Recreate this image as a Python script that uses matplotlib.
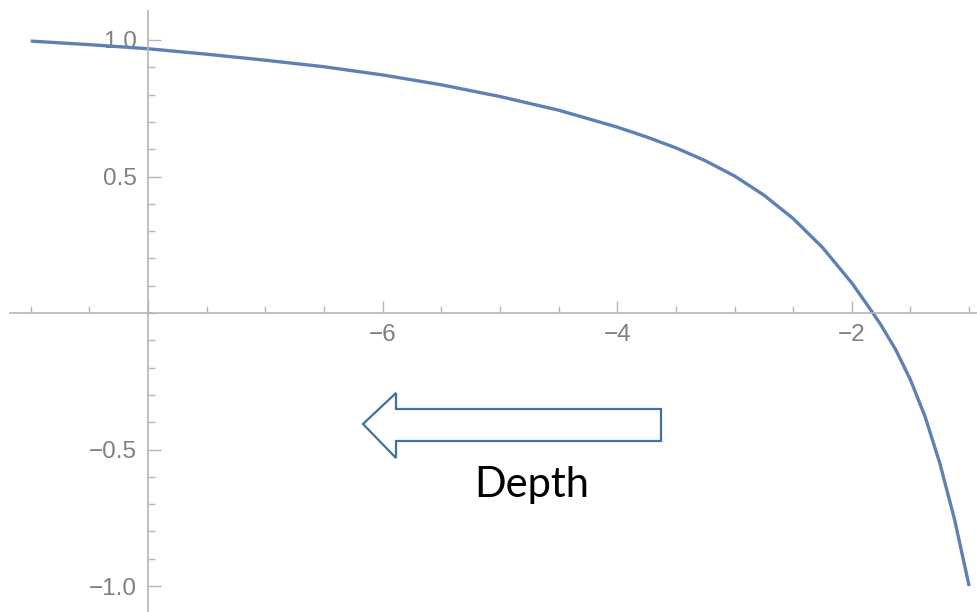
import numpy as np
import matplotlib.pyplot as plt
from matplotlib.patches import Polygon

# curve samples (depth coordinate, value)
depth = [-9.0, -8.5, -8.0, -7.5, -7.0, -6.5, -6.0, -5.5, -5.0, -4.5, -4.0,
         -3.75, -3.5, -3.25, -3.0, -2.75, -2.5, -2.25, -2.0, -1.82, -1.75,
         -1.625, -1.5, -1.375, -1.25, -1.125, -1.0]
value = [0.996, 0.983, 0.968, 0.948, 0.926, 0.902, 0.872, 0.836, 0.793, 0.743,
         0.681, 0.645, 0.605, 0.558, 0.502, 0.432, 0.346, 0.240, 0.110, 0.0,
         -0.045, -0.135, -0.245, -0.38, -0.55, -0.755, -1.0]

xticks = [-6, -4, -2]
yticks = [-1.0, -0.5, 0.5, 1.0]
arrow_label = "Depth"

W, H = 977, 612
fig = plt.figure(figsize=(W / 100, H / 100), dpi=100)
ax = fig.add_axes([0, 0, 1, 1])

ax.plot(depth, value, color='#5E81B5', lw=2.4, solid_capstyle='butt',
        solid_joinstyle='round')

ax.set_xlim(-9.262, -0.933)
ax.set_ylim(-1.095, 1.1465)

axis_gray = '#b5b5b5'
for s in ['top', 'right']:
    ax.spines[s].set_visible(False)
ax.spines['left'].set_position(('data', -8))
ax.spines['bottom'].set_position(('data', 0))
ax.spines['left'].set_bounds(-1.095, 1.105)
ax.spines['bottom'].set_bounds(-9.18, -0.933)
for s in ['left', 'bottom']:
    ax.spines[s].set_color(axis_gray)
    ax.spines[s].set_linewidth(1.2)

ax.set_xticks([-8] + xticks)
ax.set_xticklabels([''] + ['\u2212%d' % abs(t) for t in xticks])
ax.set_xticks(np.arange(-9, -0.9, 0.5), minor=True)
ax.set_yticks(yticks)
ax.set_yticklabels([('\u2212%.1f' % abs(t)) if t < 0 else '%.1f' % t for t in yticks])
ax.set_yticks(np.arange(-1.0, 1.05, 0.1), minor=True)

ax.tick_params(which='both', direction='in', color=axis_gray, width=1.0,
               labelcolor='#808080', labelsize=17.5)
ax.tick_params(which='major', length=9)
ax.tick_params(which='minor', length=5)
ax.tick_params(axis='x', which='major', pad=8)
ax.tick_params(axis='y', which='major', pad=8)
for lab in ax.get_xticklabels() + ax.get_yticklabels():
    lab.set_fontfamily('Liberation Sans')


def fp(px, py):
    return (px / W, 1 - py / H)


# hollow block arrow pointing left
arrow_pts = [fp(363, 424), fp(396, 393), fp(396, 409), fp(661, 409),
             fp(661, 441), fp(396, 441), fp(396, 458)]
fig.patches.append(Polygon(arrow_pts, closed=True, transform=fig.transFigure,
                           facecolor='white', edgecolor='#41719C', lw=1.6,
                           joinstyle='miter'))
fig.text(532 / W, 1 - 485 / H, arrow_label, ha='center', va='center',
         fontsize=30, family='Lato', color='black')

fig.savefig('out.png', dpi=100)
